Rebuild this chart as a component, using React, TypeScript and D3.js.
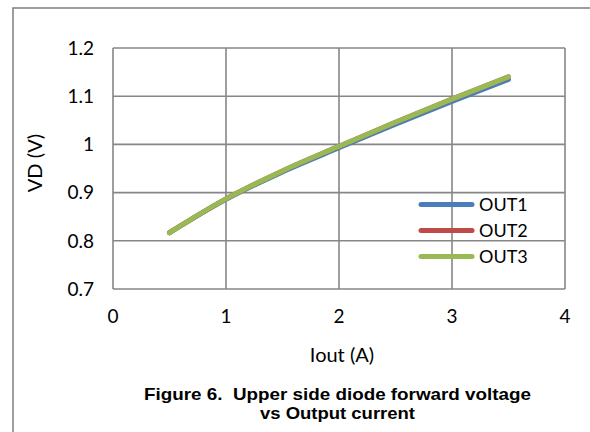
import React from "react";
import * as d3 from "d3";

const xs = [0.5, 1.0, 1.5, 2.0, 2.5, 3.0, 3.5];
const out1 = [0.817, 0.886, 0.943, 0.993, 1.042, 1.089, 1.135];
const out2 = [0.817, 0.887, 0.945, 0.996, 1.046, 1.094, 1.140];
const out3 = [0.817, 0.887, 0.945, 0.996, 1.046, 1.094, 1.140];
const seriesNames = ["OUT1", "OUT2", "OUT3"];
const seriesColors = ["#4A7EBB", "#BE4B48", "#98B954"];
const xTicks = [0, 1, 2, 3, 4];
const yTicks = [0.7, 0.8, 0.9, 1.0, 1.1, 1.2];
const yTickLabels = ["0.7", "0.8", "0.9", "1", "1.1", "1.2"];

export default function App() {
  const W = 590, H = 432;
  const x = d3.scaleLinear().domain([0, 4]).range([113, 565]);
  const y = d3.scaleLinear().domain([0.7, 1.2]).range([289, 48]);
  const line = d3.line<number>().x((_, i) => x(xs[i])).y((d) => y(d)).curve(d3.curveMonotoneX);
  const all = [out1, out2, out3];
  const font = "Lato, 'Open Sans', sans-serif";
  const capFont = "'Liberation Sans', Arial, sans-serif";
  const grid = "#868686";
  return (
    <svg width={W} height={H} style={{ position: "absolute", left: 0, top: 0, background: "#fff" }}>
      <rect x={0} y={0} width={W} height={H} fill="#fff" />
      <rect x={13} y={8} width={640} height={480} fill="none" stroke="#868686" strokeWidth={1.6} />
      {xTicks.map((t) => (
        <line key={"vx" + t} x1={x(t)} x2={x(t)} y1={y(1.2)} y2={y(0.7)} stroke={grid} strokeWidth={1.6} />
      ))}
      {yTicks.map((t) => (
        <line key={"hy" + t} x1={x(0)} x2={x(4)} y1={y(t)} y2={y(t)} stroke={grid} strokeWidth={1.6} />
      ))}
      {yTicks.map((t, i) => (
        <text key={"yl" + t} x={94} y={y(t)} dy="0.36em" textAnchor="end" fontFamily={font} fontSize={19} fill="#000">
          {yTickLabels[i]}
        </text>
      ))}
      {xTicks.map((t) => (
        <text key={"xl" + t} x={x(t)} y={323} textAnchor="middle" fontFamily={font} fontSize={19} fill="#000">
          {t}
        </text>
      ))}
      <text x={342} y={362} textAnchor="middle" fontFamily={font} fontSize={20} fill="#000">Iout (A)</text>
      <text transform={`translate(42,163) rotate(-90)`} textAnchor="middle" fontFamily={font} fontSize={20} fill="#000">VD (V)</text>
      {all.map((s, i) => (
        <path key={"s" + i} d={line(s) || ""} fill="none" stroke={seriesColors[i]} strokeWidth={5} strokeLinecap="round" />
      ))}
      {seriesNames.map((n, i) => (
        <g key={"lg" + n}>
          <line x1={421} x2={472} y1={204.5 + i * 26} y2={204.5 + i * 26} stroke={seriesColors[i]} strokeWidth={5} strokeLinecap="round" />
          <text x={479} y={204.5 + i * 26} dy="0.36em" fontFamily={font} fontSize={18} fill="#000">{n}</text>
        </g>
      ))}
      <text x={337.5} y={400} textAnchor="middle" fontFamily={capFont} fontWeight="bold" fontSize={17} textLength={387} lengthAdjust="spacingAndGlyphs" fill="#000" style={{ whiteSpace: "pre" }}>
        {"Figure 6.  Upper side diode forward voltage"}
      </text>
      <text x={337.5} y={419} textAnchor="middle" fontFamily={capFont} fontWeight="bold" fontSize={17} textLength={155} lengthAdjust="spacingAndGlyphs" fill="#000">
        vs Output current
      </text>
    </svg>
  );
}
